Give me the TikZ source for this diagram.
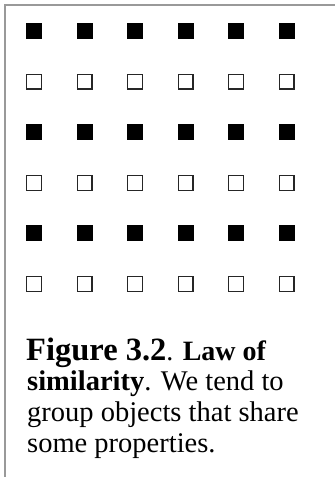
\documentclass[tikz,border=0pt]{standalone}
\usepackage{fontspec}
\setmainfont{Liberation Serif}
\usetikzlibrary{positioning}

\begin{document}
\begin{tikzpicture}[x=1pt,y=1pt,
    fullsq/.style={rectangle,fill=black,minimum size=16pt,inner sep=0pt},
    emptysq/.style={rectangle,draw=black!85,line width=1.3pt,fill=white,minimum size=14.7pt,inner sep=0pt},
    capline/.style={anchor=base west,inner sep=0pt,font=\fontsize{28.5}{31}\selectfont}]
      \useasboundingbox (0,0) rectangle (335,-477);
      \coordinate (fr-tl) at (5,-5);
      \coordinate (fr-tr) at (335,-5);
      \coordinate (fr-bl) at (5,-477);
      \draw[black!40,line width=2pt] (fr-bl) -- (fr-tl) -- (fr-tr);
      \foreach \r in {1,...,6} {
        \foreach \c in {1,...,6} {
          \pgfmathsetmacro{\px}{34+50.5*(\c-1)}
          \pgfmathsetmacro{\py}{-31-50.6*(\r-1)}
          \ifodd\r
            \node[fullsq] (sq-\r-\c) at (\px,\py) {};
          \else
            \node[emptysq] (sq-\r-\c) at (\px,\py) {};
          \fi
        }
      }
      \node[capline] (cap1) at (26,-360) {{\fontsize{32.5}{32}\selectfont\bfseries Figure 3.2}{\fontsize{28}{28}\selectfont. \textbf{Law of}}};
      \node[capline] (cap2) at (27,-390.5) {\textbf{similarity}. We tend to};
      \node[capline] (cap3) at (27,-421.5) {group objects that share};
      \node[capline] (cap4) at (27,-452.5) {some properties.};
    \end{tikzpicture}
\end{document}
